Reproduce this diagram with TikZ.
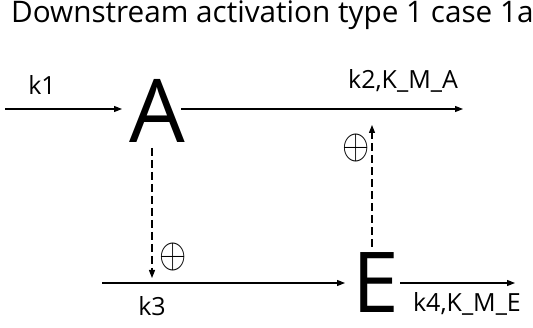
\documentclass[tikz,border=0pt]{standalone}
\usepackage{fontspec}
\setmainfont{Open Sans}
\usetikzlibrary{arrows.meta}
\tikzset{
  arr/.style={line width=1.1pt, -{Triangle[length=8pt,width=6pt]}},
  dasharr/.style={arr, dash pattern=on 8pt off 4pt},
  big/.style={inner sep=0pt, font=\fontsize{88}{88}\selectfont},
  lab/.style={inner sep=0pt, font=\fontsize{25}{25}\selectfont},
  sym/.style={inner sep=0pt},
  ttl/.style={inner sep=0pt, anchor=base west, font=\fontsize{29.7}{29.7}\selectfont}
}
\begin{document}
\begin{tikzpicture}[x=1pt,y=-1pt]
\useasboundingbox (0,0) rectangle (533,328);
\node[ttl] (title) at (11,23) {Downstream activation type 1 case 1a};
\node[big] (A) at (157,111) {A};
\node[big, font=\fontsize{84}{84}\selectfont] (E) at (376,283) {E};
\coordinate (s1) at (5,109);
\coordinate (t2) at (463,109);
\coordinate (s3) at (102,283);
\coordinate (t4) at (515,283);
\coordinate (m3) at (152,283);
\coordinate (m2) at (372,109);
\draw[arr] (s1) -- (122,109);
\draw[arr] (181,109) -- (t2);
\draw[arr] (s3) -- (345,283);
\draw[arr] (400,283) -- (t4);
\draw[dasharr, shorten >=5pt] (152,148) -- (m3);
\draw[dasharr, shorten >=16pt] (372,247) -- (m2);
\node[lab] (k1) at (42,85) {k1};
\node[lab] (k2) at (403,81) {k2,K\_M\_A};
\node[lab] (k3) at (152,306) {k3};
\node[lab] (k4) at (467,304) {k4,K\_M\_E};
\node[sym] (p1) at (173,257) {\scalebox{3.5}[4.2]{$\oplus$}};
\node[sym] (p2) at (356,148) {\scalebox{3.5}[4.2]{$\oplus$}};
\end{tikzpicture}
\end{document}
